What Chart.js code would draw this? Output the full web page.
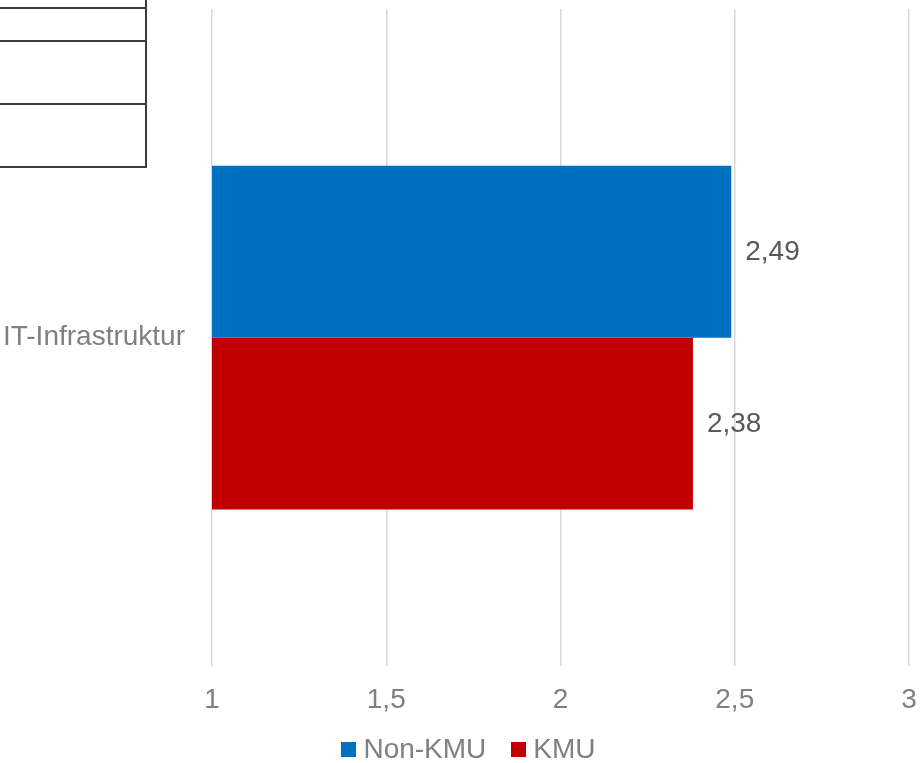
<!DOCTYPE html>
<html>
  <head>
    <title>IT-Infrastruktur</title>
    <style>
      body { margin: 0; background: #fff; font-family: "Liberation Sans", Arial, sans-serif; }
      #wrap { position: relative; width: 921px; height: 763px; }
      canvas { display: block; }
      .hl { position: absolute; left: 0; width: 147px; height: 2px; background: #3b3b3b; }
      .vl { position: absolute; left: 145px; top: 0; width: 2px; height: 168px; background: #3b3b3b; }
      #legend {
        position: absolute; left: 16px; right: 0; top: 733px;
        display: flex; justify-content: center; gap: 25px;
        font-size: 28px; color: #808080;
      }
      #legend span { display: flex; align-items: center; }
      #legend i { display: inline-block; width: 15px; height: 15px; margin-right: 7px; }
    </style>
    <script src="https://cdn.jsdelivr.net/npm/chart.js"></script>
  </head>
  <body>
    <div id="wrap">
      <canvas id="chart" width="921" height="763"></canvas>
      <!-- leftover table edge from the source slide -->
      <div class="hl" style="top: 7px"></div>
      <div class="hl" style="top: 40px"></div>
      <div class="hl" style="top: 103px"></div>
      <div class="hl" style="top: 166px"></div>
      <div class="vl"></div>
      <div id="legend"></div>
    </div>

    <script>
      const categories = ["IT-Infrastruktur"];
      const seriesNames = ["Non-KMU", "KMU"];
      const nonKmu = [2.49];
      const kmu = [2.38];
      const colors = ["#0070C0", "#C00000"];

      const fmt = (v) => String(v).replace(".", ",");
      const font = "'Liberation Sans', Arial, sans-serif";

      // value labels to the right of each bar
      const valueLabels = {
        id: "valueLabels",
        afterDatasetsDraw(chart) {
          const ctx = chart.ctx;
          ctx.save();
          ctx.font = "28px " + font;
          ctx.fillStyle = "#595959";
          ctx.textAlign = "left";
          ctx.textBaseline = "middle";
          chart.data.datasets.forEach((ds, i) => {
            chart.getDatasetMeta(i).data.forEach((bar, j) => {
              ctx.fillText(fmt(ds.data[j]), bar.x + 14, bar.y + 1);
            });
          });
          ctx.restore();
        },
      };

      new Chart(document.getElementById("chart"), {
        type: "bar",
        data: {
          labels: categories,
          datasets: [
            { label: seriesNames[0], data: nonKmu, backgroundColor: colors[0] },
            { label: seriesNames[1], data: kmu, backgroundColor: colors[1] },
          ],
        },
        options: {
          indexAxis: "y",
          responsive: false,
          animation: false,
          categoryPercentage: 0.523,
          barPercentage: 1,
          layout: { autoPadding: false, padding: { top: 9, right: 12, bottom: 46, left: 0 } },
          plugins: {
            legend: { display: false },
            tooltip: { enabled: false },
          },
          scales: {
            x: {
              min: 1,
              max: 3,
              border: { display: false },
              grid: { color: "#d9d9d9", lineWidth: 1.5, drawTicks: false },
              // tick padding otherwise leaks into the chart area margins
              afterFit: (s) => {
                s.height = 17 + 33.6;
                s.paddingLeft = 0;
                s.paddingRight = 0;
              },
              ticks: {
                stepSize: 0.5,
                padding: 17,
                color: "#808080",
                font: { family: font, size: 28 },
                callback: (v) => fmt(v),
              },
            },
            y: {
              border: { display: false },
              grid: { display: false, drawTicks: false },
              afterFit: (s) => {
                s.width = 212;
                s.paddingTop = 0;
                s.paddingBottom = 0;
              },
              ticks: {
                padding: 27,
                color: "#808080",
                font: { family: font, size: 28 },
              },
            },
          },
        },
        plugins: [valueLabels],
      });

      const legend = document.getElementById("legend");
      seriesNames.forEach((name, i) => {
        const item = document.createElement("span");
        item.innerHTML = `<i style="background:${colors[i]}"></i>${name}`;
        legend.appendChild(item);
      });
    </script>
  </body>
</html>
